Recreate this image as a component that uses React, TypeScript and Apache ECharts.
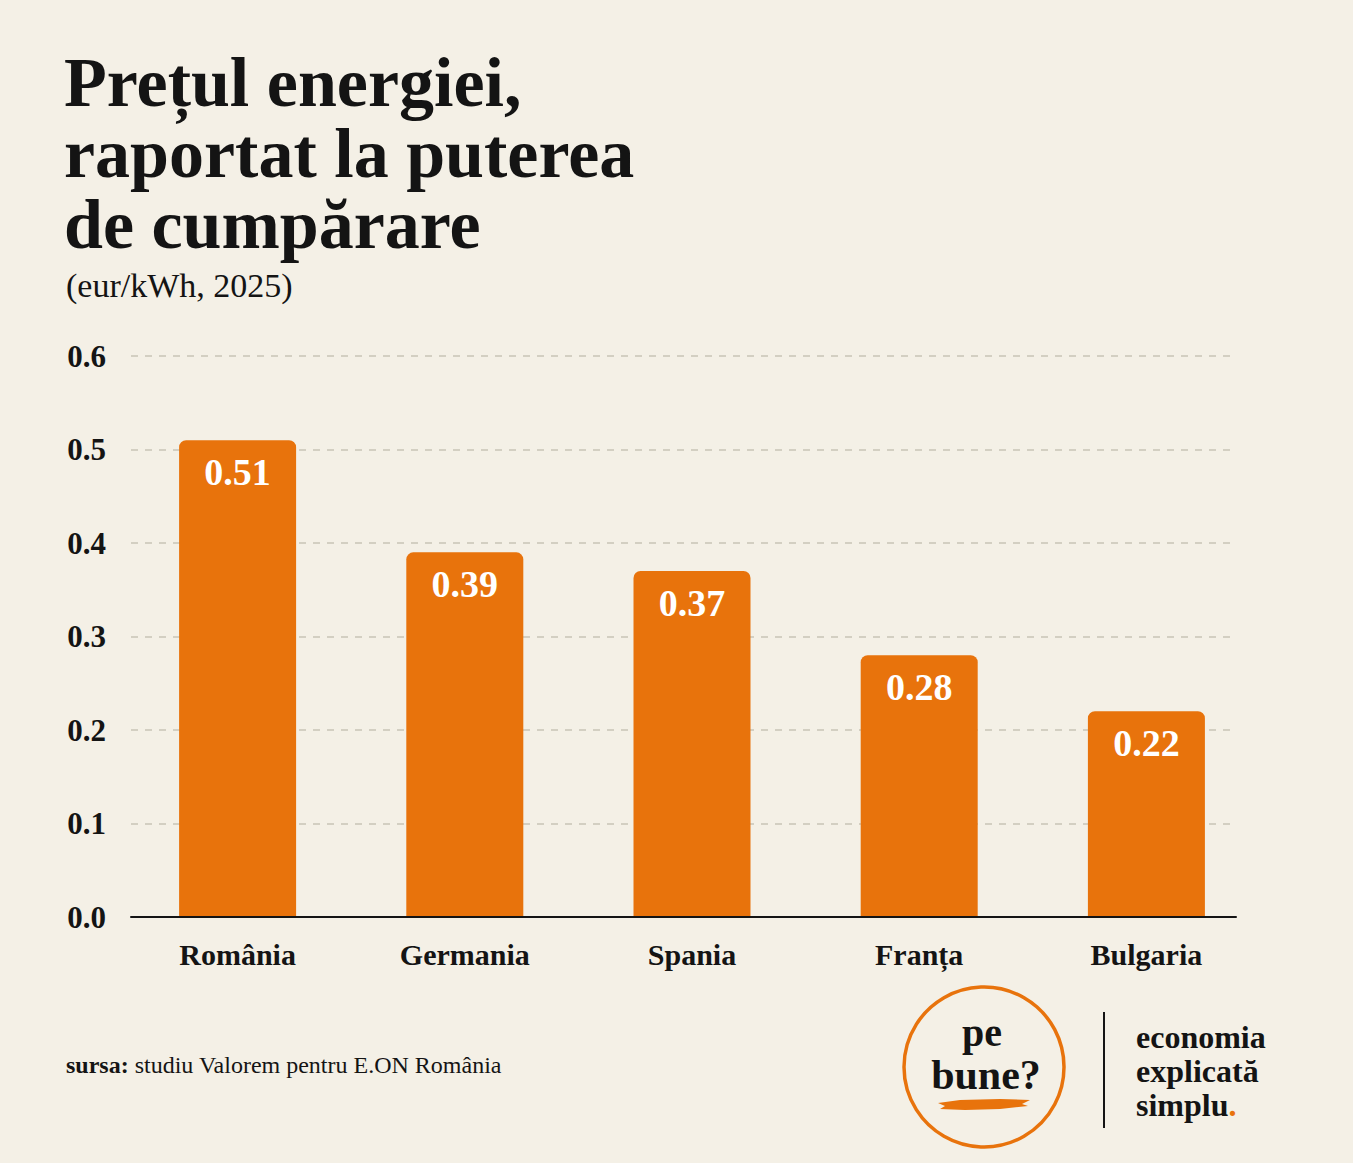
import React, { useEffect, useRef } from "react";
import * as echarts from "echarts";

const categories = ["România", "Germania", "Spania", "Franța", "Bulgaria"];
const values = [0.51, 0.39, 0.37, 0.28, 0.22];
const yTicks = { min: 0, max: 0.6, interval: 0.1 };
const titleLines = ["Prețul energiei,", "raportat la puterea", "de cumpărare"];
const subtitle = "(eur/kWh, 2025)";
const sourceLabel = "sursa:";
const sourceText = " studiu Valorem pentru E.ON România";
const logoWords = ["pe", "bune?"];
const taglineLines = ["economia", "explicată", "simplu"];

const SERIF = '"Liberation Serif", "DejaVu Serif", serif';
const ORANGE = "#e8730c";
const BG = "#f4f0e6";
const INK = "#141414";

export default function App() {
  const ref = useRef<HTMLDivElement>(null);
  useEffect(() => {
    if (!ref.current) return;
    const chart = echarts.init(ref.current, undefined, { renderer: "svg" });
    const titleGraphics = titleLines.map((t, i) => ({
      type: "text",
      left: 64,
      top: 47 + i * 71,
      style: { text: t, font: `bold 70px ${SERIF}`, fill: INK },
    }));
    chart.setOption({
      animation: false,
      backgroundColor: BG,
      grid: [
        { left: 131, right: 117, top: 356, bottom: 246 },
        { left: 124, right: 93, top: 356, bottom: 246 },
      ],
      xAxis: [
        {
          gridIndex: 0,
          type: "category",
          data: categories,
          axisLine: { show: true, lineStyle: { color: INK, width: 2 } },
          axisTick: { show: false },
          axisLabel: { show: false },
          z: 5,
        },
        {
          gridIndex: 1,
          type: "category",
          data: categories,
          axisLine: { show: false },
          axisTick: { show: false },
          axisLabel: {
            margin: 22,
            color: INK,
            fontFamily: SERIF,
            fontWeight: "bold",
            fontSize: 30,
          },
        },
      ],
      yAxis: [
        {
          gridIndex: 0,
          type: "value",
          min: yTicks.min,
          max: yTicks.max,
          interval: yTicks.interval,
          axisLine: { show: false },
          axisTick: { show: false },
          axisLabel: {
            margin: 25,
            color: INK,
            fontFamily: SERIF,
            fontWeight: "bold",
            fontSize: 31,
            formatter: (v: number) => v.toFixed(1),
          },
          splitLine: {
            show: true,
            lineStyle: { color: "#c8c3b7", width: 1.5, type: [7, 7] },
          },
        },
        {
          gridIndex: 1,
          type: "value",
          min: yTicks.min,
          max: yTicks.max,
          interval: yTicks.interval,
          show: false,
          splitLine: { show: false },
        },
      ],
      series: [
        {
          type: "bar",
          xAxisIndex: 1,
          yAxisIndex: 1,
          data: values,
          barWidth: 117,
          itemStyle: { color: ORANGE, borderRadius: [7, 7, 0, 0] },
          label: {
            show: true,
            position: "insideTop",
            distance: 13,
            color: "#ffffff",
            fontFamily: SERIF,
            fontWeight: "bold",
            fontSize: 38,
            formatter: (p: any) => Number(p.value).toFixed(2),
          },
        },
      ],
      graphic: [
        ...titleGraphics,
        {
          type: "text",
          left: 66,
          top: 268,
          style: { text: subtitle, font: `34px ${SERIF}`, fill: INK },
        },
        {
          type: "text",
          left: 66,
          top: 1053,
          style: {
            text: `{b|${sourceLabel}}{r|${sourceText}}`,
            rich: {
              b: { font: `bold 24px ${SERIF}`, fill: INK },
              r: { font: `24px ${SERIF}`, fill: INK },
            },
          },
        },
        {
          type: "circle",
          shape: { cx: 984, cy: 1067, r: 80 },
          style: { fill: "none", stroke: ORANGE, lineWidth: 3.5 },
        },
        ...logoWords.map((w, i) => ({
          type: "text",
          x: i === 0 ? 982 : 986,
          y: 1012 + i * 42,
          style: {
            text: w,
            font: `bold ${i === 0 ? 40 : 42}px ${SERIF}`,
            fill: INK,
            align: "center",
            verticalAlign: "top",
          },
        })),
        {
          type: "polygon",
          shape: {
            points: [
              [938, 1103],
              [960, 1100],
              [1000, 1099],
              [1030, 1100],
              [1022, 1104],
              [1028, 1106],
              [1000, 1109],
              [965, 1110],
              [940, 1109],
              [945, 1106],
            ],
          },
          style: { fill: ORANGE },
        },
        {
          type: "line",
          shape: { x1: 1104, y1: 1012, x2: 1104, y2: 1128 },
          style: { stroke: INK, lineWidth: 2 },
        },
        ...taglineLines.map((t, i) => ({
          type: "text",
          left: 1136,
          top: 1021 + i * 34,
          style:
            i === 2
              ? {
                  text: `{a|${t}}{o|.}`,
                  rich: {
                    a: { font: `bold 32px ${SERIF}`, fill: INK },
                    o: { font: `bold 32px ${SERIF}`, fill: ORANGE },
                  },
                }
              : { text: t, font: `bold 32px ${SERIF}`, fill: INK },
        })),
      ],
    });
    return () => chart.dispose();
  }, []);
  return (
    <div
      ref={ref}
      style={{ position: "absolute", left: 0, top: 0, width: 1353, height: 1163, background: BG }}
    />
  );
}
